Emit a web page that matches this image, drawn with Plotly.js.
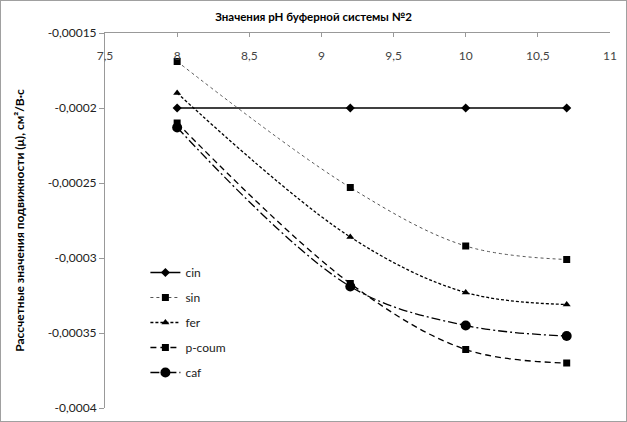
<!DOCTYPE html>
<html>
<head>
<meta charset="utf-8">
<script src="https://cdn.plot.ly/plotly-3.0.1.min.js"></script>
<style>
  body { margin: 0; background: #fff; }
  #myDiv { width: 625px; height: 420px; border: 1px solid #a0a0a0; }
</style>
</head>
<body>
<div id="myDiv"></div>
<script>
// pH values
var ph = [8, 9.2, 10, 10.7];

// calculated mobilities
var cin = [-0.0002, -0.0002, -0.0002, -0.0002];
var sin = [-0.000169, -0.000253, -0.000292, -0.000301];
var fer = [-0.00019, -0.000286, -0.000323, -0.000331];
var pcoum = [-0.00021, -0.000317, -0.000361, -0.00037];
var caf = [-0.000213, -0.000319, -0.000345, -0.000352];

var xTickVals = [7.5, 8, 8.5, 9, 9.5, 10, 10.5, 11];
var xTickText = ['7,5', '8', '8,5', '9', '9,5', '10', '10,5', '11'];
var yTickVals = [-0.00015, -0.0002, -0.00025, -0.0003, -0.00035, -0.0004];
var yTickText = ['-0,00015', '-0,0002', '-0,00025', '-0,0003', '-0,00035', '-0,0004'];

var fnt = 'Lato, "Open Sans", sans-serif';

function serie(name, y, dash, width, color, symbol, size) {
  return {
    x: ph,
    y: y,
    name: name,
    legendgroup: name,
    type: 'scatter',
    mode: 'lines+markers',
    line: {color: color, width: width, dash: dash, shape: 'spline', smoothing: 1},
    marker: {symbol: symbol, size: size, color: '#000'}
  };
}

var data = [
  serie('cin', cin, 'solid', 1.6, '#000', 'diamond', 7),
  serie('sin', sin, 'dot', 1, '#555', 'square', 7),
  serie('fer', fer, '3px,2px', 1.3, '#000', 'triangle-up', 7),
  serie('p-coum', pcoum, '6px,4px', 1.3, '#000', 'square', 7),
  serie('caf', caf, '9px,3px,2px,3px', 1.3, '#000', 'circle', 10)
];

var layout = {
  width: 625,
  height: 420,
  margin: {l: 104, r: 16, t: 32, b: 13},
  paper_bgcolor: '#fff',
  plot_bgcolor: '#fff',
  font: {family: fnt, size: 12, color: '#222'},
  title: {
    text: '<b>Значения pH буферной системы №2</b>',
    font: {family: fnt, size: 11.5, color: '#000'},
    x: 0.5, xanchor: 'center', y: 0.972, yanchor: 'top'
  },
  showlegend: true,
  legend: {
    x: 0.08, y: 0.4, xanchor: 'left', yanchor: 'top',
    traceorder: 'grouped', tracegroupgap: 6,
    font: {family: fnt, size: 12, color: '#222'},
    bgcolor: 'rgba(0,0,0,0)'
  },
  xaxis: {
    range: [7.4999, 11.0001],
    side: 'top',
    tickvals: xTickVals,
    ticktext: xTickText,
    ticklabelposition: 'inside',
    ticklabeloverflow: 'allow',
    ticklabelstandoff: 14,
    ticks: 'inside',
    ticklen: 4,
    tickcolor: '#999',
    showline: true,
    linecolor: '#999',
    linewidth: 1,
    showgrid: false,
    zeroline: false
  },
  yaxis: {
    range: [-0.0004000001, -0.0001499999],
    tickvals: yTickVals,
    ticktext: yTickText,
    ticks: 'outside',
    ticklen: 5,
    tickcolor: '#999',
    showline: true,
    linecolor: '#999',
    linewidth: 1,
    showgrid: false,
    zeroline: false,
    title: {
      text: '<b>Рассчетные значения подвижности (μ), см²/В·с</b>',
      font: {family: fnt, size: 12, color: '#000'},
      standoff: 20
    }
  }
};

Plotly.newPlot('myDiv', data, layout, {displayModeBar: false, staticPlot: true});
</script>
</body>
</html>
